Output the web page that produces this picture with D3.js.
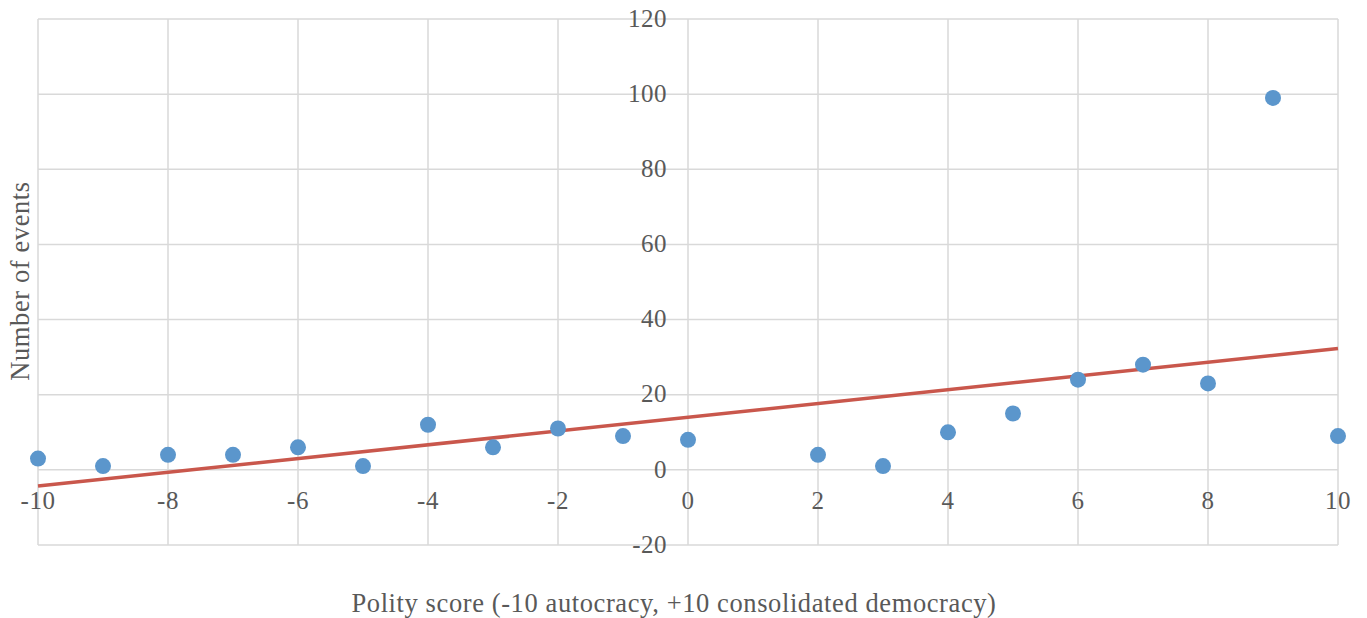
<html>
<head>
<script src="https://d3js.org/d3.v7.min.js"></script>
<style>
  body { margin: 0; background: #fff; }
  text { font-family: "Liberation Serif", "DejaVu Serif", serif; fill: #595959; }
</style>
</head>
<body>
<svg id="chart" width="1367" height="618"></svg>
<script>
// polity score vs number of events
var polity = [-10, -9, -8, -7, -6, -5, -4, -3, -2, -1, 0, 2, 3, 4, 5, 6, 7, 8, 9, 10];
var events = [3, 1, 4, 4, 6, 1, 12, 6, 11, 9, 8, 4, 1, 10, 15, 24, 28, 23, 99, 9];
var xTicks = [-10, -8, -6, -4, -2, 0, 2, 4, 6, 8, 10];
var yTicks = [-20, 0, 20, 40, 60, 80, 100, 120];

var svg = d3.select("#chart");
var x = d3.scaleLinear().domain([-10, 10]).range([38, 1338]);
var y = d3.scaleLinear().domain([-20, 120]).range([545, 19]);

// gridlines
svg.append("g").selectAll("line.h")
  .data(yTicks).enter().append("line")
  .attr("x1", x(-10)).attr("x2", x(10))
  .attr("y1", d => y(d)).attr("y2", d => y(d))
  .attr("stroke", "#d9d9d9").attr("stroke-width", 1.5);
svg.append("g").selectAll("line.v")
  .data(xTicks).enter().append("line")
  .attr("x1", d => x(d)).attr("x2", d => x(d))
  .attr("y1", y(-20)).attr("y2", y(120))
  .attr("stroke", "#d9d9d9").attr("stroke-width", 1.5);

// tick labels
svg.append("g").selectAll("text")
  .data(yTicks).enter().append("text")
  .attr("x", x(0) - 21).attr("y", d => y(d) + 2)
  .attr("text-anchor", "end").attr("dominant-baseline", "middle")
  .style("font-size", "25px").style("letter-spacing", "0.5px")
  .text(d => d);
svg.append("g").selectAll("text")
  .data(xTicks).enter().append("text")
  .attr("x", d => x(d)).attr("y", y(0) + 33)
  .attr("text-anchor", "middle").attr("dominant-baseline", "middle")
  .style("font-size", "25px").style("letter-spacing", "0.5px")
  .text(d => d);

// least squares trendline
var pts = polity.map((p, i) => ({x: p, y: events[i]}));
var mx = d3.mean(polity), my = d3.mean(events);
var slope = d3.sum(pts, d => (d.x - mx) * (d.y - my)) / d3.sum(pts, d => (d.x - mx) * (d.x - mx));
var icpt = my - slope * mx;
var line = d3.line().x(d => x(d)).y(d => y(icpt + slope * d));
svg.append("path")
  .attr("d", line([-10, 10]))
  .attr("fill", "none")
  .attr("stroke", "#c9574c")
  .attr("stroke-width", 3.5);

// points
svg.append("g").selectAll("circle")
  .data(pts).enter().append("circle")
  .attr("cx", d => x(d.x)).attr("cy", d => y(d.y))
  .attr("r", 8)
  .style("fill", "#5b96cc");

// axis titles
svg.append("text")
  .attr("x", 674).attr("y", 612)
  .attr("text-anchor", "middle")
  .style("font-size", "26.5px").style("letter-spacing", "0.6px")
  .text("Polity score (-10 autocracy, +10 consolidated democracy)");
svg.append("text")
  .attr("transform", "translate(29, 281) rotate(-90)")
  .attr("text-anchor", "middle")
  .style("font-size", "26.5px").style("letter-spacing", "0.6px")
  .text("Number of events");
</script>
</body>
</html>
